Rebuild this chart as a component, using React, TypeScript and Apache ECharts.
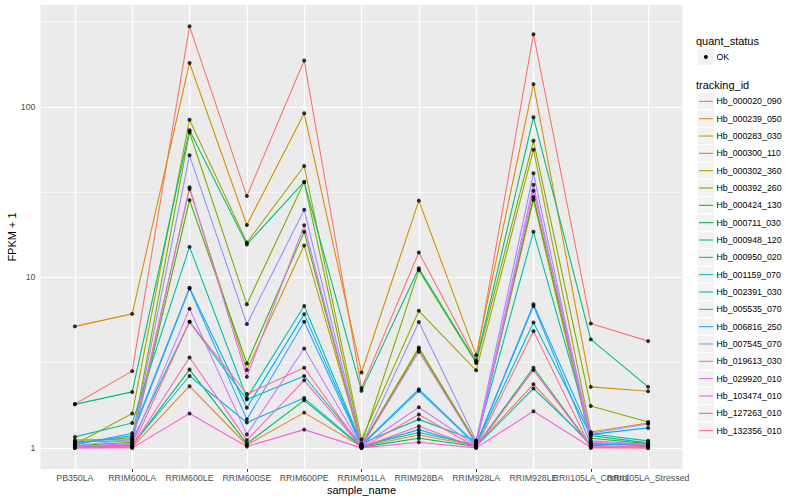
import React, { useEffect, useRef } from 'react';
import * as echarts from 'echarts';

const samples = ['PB350LA', 'RRIM600LA', 'RRIM600LE', 'RRIM600SE', 'RRIM600PE', 'RRIM901LA', 'RRIM928BA', 'RRIM928LA', 'RRIM928LE', 'RRII105LA_Control', 'RRII105LA_Stressed'];

const trackingIds = ['Hb_000020_090', 'Hb_000239_050', 'Hb_000283_030', 'Hb_000300_110', 'Hb_000302_360', 'Hb_000392_260', 'Hb_000424_130', 'Hb_000711_030', 'Hb_000948_120', 'Hb_000950_020', 'Hb_001159_070', 'Hb_002391_030', 'Hb_005535_070', 'Hb_006816_250', 'Hb_007545_070', 'Hb_019613_030', 'Hb_029920_010', 'Hb_103474_010', 'Hb_127263_010', 'Hb_132356_010'];

const colors = ['#F8766D', '#EA8331', '#D89000', '#C09B00', '#A3A500', '#7CAE00', '#39B600', '#00BB4E', '#00BF7D', '#00C1A3', '#00BFC4', '#00BAE0', '#00B0F6', '#35A2FF', '#9590FF', '#C77CFF', '#E76BF3', '#FA62DB', '#FF62BC', '#FF6C91'];

// FPKM + 1 per sample (same order as samples)
const hb000020_090 = [1.81, 2.82, 297, 30.0, 187, 2.24, 14.0, 3.27, 267, 5.37, 4.23];
const hb000239_050 = [1.01, 1.01, 2.30, 1.04, 1.61, 1.02, 1.19, 1.03, 2.36, 1.03, 1.02];
const hb000283_030 = [5.16, 6.11, 181, 20.3, 91.7, 2.77, 28.2, 3.50, 136, 2.28, 2.15];
const hb000300_110 = [1.11, 1.13, 33.0, 2.86, 15.4, 1.04, 3.88, 1.08, 28.5, 1.06, 1.04];
const hb000302_360 = [1.05, 1.59, 84, 16.0, 45, 1.12, 6.37, 2.85, 56.1, 1.24, 1.40];
const hb000392_260 = [1.08, 1.15, 71, 6.95, 36.3, 1.05, 11.0, 3.15, 63.3, 1.76, 1.42];
const hb000424_130 = [1.03, 1.08, 28.4, 3.13, 18.5, 1.03, 3.80, 1.06, 29.6, 1.14, 1.06];
const hb000711_030 = [1.02, 1.03, 2.88, 1.06, 1.90, 1.01, 1.14, 1.02, 2.95, 1.03, 1.08];
const hb000948_120 = [1.80, 2.13, 73, 15.6, 36.3, 2.16, 11.3, 3.20, 86.9, 4.33, 2.28];
const hb000950_020 = [1.16, 1.40, 15.1, 1.96, 6.79, 1.06, 1.47, 1.10, 18.5, 1.21, 1.10];
const hb001159_070 = [1.09, 1.10, 5.49, 1.92, 2.64, 1.03, 1.23, 1.04, 5.44, 1.18, 1.07];
const hb002391_030 = [1.03, 1.04, 2.64, 1.41, 1.96, 1.02, 1.28, 1.02, 2.23, 1.06, 1.03];
const hb005535_070 = [1.04, 1.22, 8.7, 1.72, 6.09, 1.04, 2.21, 1.05, 6.95, 1.20, 1.31];
const hb006816_250 = [1.06, 1.18, 8.6, 1.47, 5.49, 1.03, 2.16, 1.04, 6.80, 1.05, 1.05];
const hb007545_070 = [1.03, 1.12, 52, 5.32, 24.9, 1.03, 5.47, 1.10, 40.8, 1.10, 1.05];
const hb019613_030 = [1.02, 1.05, 6.54, 1.20, 3.83, 1.02, 1.73, 1.03, 32.2, 1.22, 1.38];
const hb029920_010 = [1.02, 1.06, 33.8, 2.61, 20.2, 1.02, 3.66, 1.05, 34.9, 1.08, 1.04];
const hb103474_010 = [1.00, 1.00, 1.59, 1.02, 1.28, 1.00, 1.08, 1.00, 1.64, 1.01, 1.00];
const hb127263_010 = [1.01, 1.02, 3.39, 1.11, 2.49, 1.01, 1.34, 1.01, 2.86, 1.02, 1.01];
const hb132356_010 = [1.00, 1.01, 5.49, 2.07, 2.95, 1.00, 1.57, 1.01, 4.84, 1.00, 1.00];

const seriesValues = [hb000020_090, hb000239_050, hb000283_030, hb000300_110, hb000302_360, hb000392_260, hb000424_130, hb000711_030, hb000948_120, hb000950_020, hb001159_070, hb002391_030, hb005535_070, hb006816_250, hb007545_070, hb019613_030, hb029920_010, hb103474_010, hb127263_010, hb132356_010];

// y scale is log10(FPKM + 1)
const yBreaks = [1, 10, 100];
const yMinorBreaks = [3.1623, 31.623, 316.23];
const yMin = 0.752;
const yMax = 396;

export default function App() {
  const ref = useRef<HTMLDivElement>(null);

  useEffect(() => {
    if (!ref.current) return;
    const chart = echarts.init(ref.current, null, { renderer: 'svg' });
    const font = '"Liberation Sans", Arial, Helvetica, sans-serif';
    const lg = (v: number) => Math.log10(v);
    const xIdx = samples.map((_, i) => i);
    const xEven = xIdx.filter((i) => i % 2 === 0);
    const xOdd = xIdx.filter((i) => i % 2 === 1);
    const yBreakLog = yBreaks.map(lg);

    const gridLines: any[] = [
      ...yMinorBreaks.map((v) => ({ yAxis: lg(v), lineStyle: { color: '#FFFFFF', width: 0.6, type: 'solid' } })),
      ...yBreaks.map((v) => ({ yAxis: lg(v), lineStyle: { color: '#FFFFFF', width: 1.2, type: 'solid' } })),
      ...xIdx.map((i) => ({ xAxis: i, lineStyle: { color: '#FFFFFF', width: 1.2, type: 'solid' } })),
    ];

    const lineSeries: any[] = trackingIds.map((id, k) => ({
      type: 'line',
      name: id,
      xAxisIndex: 0,
      data: seriesValues[k].map((v, i) => [i, lg(v)]),
      symbol: 'none',
      showSymbol: false,
      silent: true,
      z: 2,
      lineStyle: { color: colors[k], width: 1.1 },
      itemStyle: { color: colors[k] },
      emphasis: { disabled: true },
    }));
    lineSeries[0].markLine = {
      silent: true,
      symbol: 'none',
      z: 1,
      label: { show: false },
      emphasis: { disabled: true },
      data: gridLines,
    };

    const pointData: any[] = [];
    seriesValues.forEach((vals) => vals.forEach((v, i) => pointData.push([i, lg(v)])));

    const keyTop = 92.7;
    const keyStep = 17.33;
    const legendGraphics: any[] = [
      { type: 'text', x: 696, y: 40.5, style: { text: 'quant_status', fontFamily: font, fontSize: 11, fill: '#000', verticalAlign: 'middle' } },
      { type: 'rect', shape: { x: 697.3, y: 48.3, width: 17.3, height: 17.3 }, style: { fill: '#F2F2F2', stroke: '#FFFFFF', lineWidth: 1 } },
      { type: 'circle', shape: { cx: 705.9, cy: 56.9, r: 2 }, style: { fill: '#000' } },
      { type: 'text', x: 716.5, y: 57, style: { text: 'OK', fontFamily: font, fontSize: 8.8, fill: '#000', verticalAlign: 'middle' } },
      { type: 'text', x: 696, y: 84.5, style: { text: 'tracking_id', fontFamily: font, fontSize: 11, fill: '#000', verticalAlign: 'middle' } },
    ];
    trackingIds.forEach((id, k) => {
      const top = keyTop + k * keyStep;
      const cy = top + keyStep / 2;
      legendGraphics.push(
        { type: 'rect', shape: { x: 697.3, y: top, width: 17.3, height: keyStep }, style: { fill: '#F2F2F2', stroke: '#FFFFFF', lineWidth: 1 } },
        { type: 'line', shape: { x1: 699, y1: cy, x2: 713, y2: cy }, style: { stroke: colors[k], lineWidth: 1.1 } },
        { type: 'text', x: 716.5, y: cy, style: { text: id, fontFamily: font, fontSize: 8.8, fill: '#000', verticalAlign: 'middle' } },
      );
    });

    const makeXAxis = (vals: number[], show: boolean) => ({
      type: 'value',
      position: 'bottom',
      offset: 0,
      min: -0.6,
      max: 10.6,
      axisLine: { show: false },
      splitLine: { show: false },
      axisTick: { show, customValues: vals, length: 2.75, lineStyle: { color: '#333333', width: 1 } },
      axisLabel: {
        show,
        customValues: vals,
        formatter: (v: number) => samples[Math.round(v)] ?? '',
        color: '#4D4D4D',
        fontSize: 8.8,
        fontFamily: font,
        margin: 4.5,
        hideOverlap: false,
        showMinLabel: true,
        showMaxLabel: true,
      },
    });

    const option: any = {
      animation: false,
      backgroundColor: '#FFFFFF',
      textStyle: { fontFamily: font },
      grid: {
        left: 40.5,
        top: 5,
        width: 642,
        height: 464,
        show: true,
        backgroundColor: '#EBEBEB',
        borderWidth: 0,
        containLabel: false,
      },
      xAxis: [makeXAxis(xEven, true), makeXAxis(xOdd, true)],
      yAxis: {
        type: 'value',
        min: lg(yMin),
        max: lg(yMax),
        axisLine: { show: false },
        splitLine: { show: false },
        axisTick: { show: true, customValues: yBreakLog, length: 2.75, lineStyle: { color: '#333333', width: 1 } },
        axisLabel: {
          customValues: yBreakLog,
          formatter: (v: number) => String(Math.round(Math.pow(10, v))),
          color: '#4D4D4D',
          fontSize: 8.8,
          fontFamily: font,
          margin: 5,
          showMinLabel: true,
          showMaxLabel: true,
        },
      },
      series: [
        ...lineSeries,
        {
          type: 'scatter',
          name: 'OK',
          xAxisIndex: 0,
          data: pointData,
          symbol: 'circle',
          symbolSize: 4,
          silent: true,
          z: 3,
          itemStyle: { color: '#000000' },
          emphasis: { disabled: true },
        },
      ],
      graphic: [
        { type: 'text', x: 361.5, y: 489.5, style: { text: 'sample_name', fontFamily: font, fontSize: 11, fill: '#000', align: 'center', verticalAlign: 'middle' } },
        { type: 'text', x: 12, y: 237, rotation: Math.PI / 2, style: { text: 'FPKM + 1', fontFamily: font, fontSize: 11, fill: '#000', align: 'center', verticalAlign: 'middle' } },
        ...legendGraphics,
      ],
    };

    chart.setOption(option);
    return () => {
      chart.dispose();
    };
  }, []);

  return <div ref={ref} style={{ position: 'fixed', left: 0, top: 0, width: 800, height: 500 }} />;
}
